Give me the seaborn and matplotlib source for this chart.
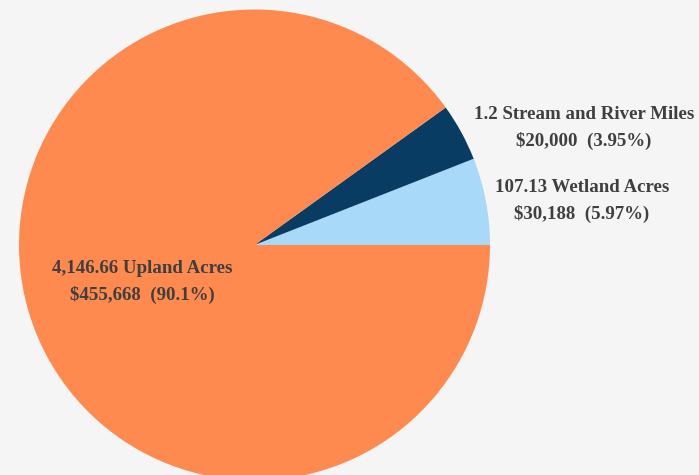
import matplotlib
matplotlib.use("Agg")
import matplotlib.pyplot as plt
import seaborn as sns

# Cost allocation by resource type
categories = ["Wetland", "Stream and River", "Upland"]
quantity_labels = ["107.13 Wetland Acres", "1.2 Stream and River Miles", "4,146.66 Upland Acres"]
costs = [30188, 20000, 455668]
pct_labels = ["5.97%", "3.95%", "90.1%"]

sns.set_theme(style="white")
plt.rcParams["font.family"] = ["Liberation Serif", "DejaVu Serif"]

palette = sns.color_palette(["#A9D9F9", "#093C63", "#FF8A4F"])
bg = "#F4F5F4"

W, H = 699, 475
fig = plt.figure(figsize=(W / 100, H / 100), dpi=100, facecolor=bg)
ax = fig.add_axes([0, 0, 1, 1])
ax.set_facecolor(bg)
ax.axis("off")

ax.pie(costs, colors=palette, startangle=0, counterclock=True,
       radius=235.5, center=(254.5, H - 245),
       wedgeprops=dict(linewidth=0), frame=False)
ax.set_xlim(0, W)
ax.set_ylim(0, H)
ax.set_aspect("equal")

label_pos = [(582, H - 201), (584, H - 128), (142, H - 282)]
for q, c, p, (x, y) in zip(quantity_labels, costs, pct_labels, label_pos):
    ax.text(x, y, f"{q}\n${c:,}  ({p})", ha="center", va="center",
            fontsize=13.6, fontweight="bold", color="#3F3F3F", linespacing=1.6)

fig.savefig("out.png", dpi=100, facecolor=bg)
